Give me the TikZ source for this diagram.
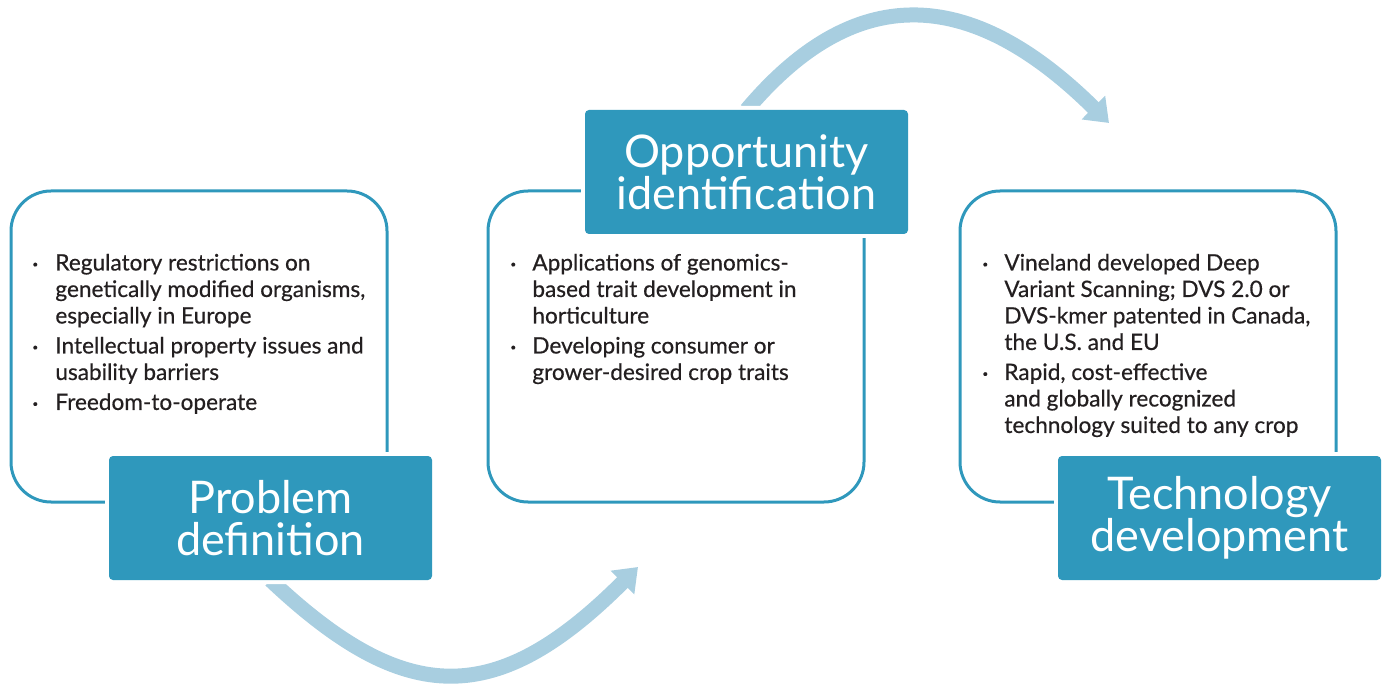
\documentclass[tikz,border=0pt]{standalone}
\usepackage{fontspec}
\setmainfont{Lato}
\usetikzlibrary{arrows.meta}
\definecolor{boxblue}{RGB}{47,152,188}
\definecolor{arrowblue}{RGB}{168,206,224}
\definecolor{textdark}{RGB}{35,31,32}
\newcommand{\blt}{\raisebox{0.25ex}{\tiny\textbullet}}
\begin{document}
\begin{tikzpicture}[x=0.5pt,y=0.5pt,
  outerbox/.style={draw=boxblue, line width=1.5pt, rounded corners=20pt,
    minimum width=188pt, minimum height=155.5pt, anchor=north west, inner sep=0pt},
  titlebox/.style={fill=boxblue, text=white, rounded corners=2pt,
    minimum width=161.5pt, minimum height=62pt, align=center, inner sep=0pt,
    font=\fontsize{22.5}{21}\selectfont, preaction={draw=white, line width=4pt}},
  bullets/.style={anchor=north west, inner sep=0pt, text=textdark,
    font=\fontsize{11.3}{13.25}\selectfont\addfontfeatures{FakeBold=0.5}},
  cyclearrow/.style={draw=arrowblue, line width=7.5pt,
    -{Triangle[length=11pt,width=16pt]}}]
  \useasboundingbox (0,0) rectangle (1382,-684);
  % Frames
  \node[outerbox] (probframe) at (9.5,-189.5) {};
  \node[outerbox] (oppframe) at (486.5,-189.5) {};
  \node[outerbox] (techframe) at (958.5,-189.5) {};
  % Bullet texts
  \node[bullets] (probtext) at (32,-251.5) {\begin{tabular}{@{}p{11.5pt}@{}l@{}}
    \blt & Regulatory restrictions on\\
         & genetically modified organisms,\\
         & especially in Europe\\[1.75pt]
    \blt & Intellectual property issues and\\
         & usability barriers\\[1.75pt]
    \blt & Freedom-to-operate
  \end{tabular}};
  \node[bullets] (opptext) at (510,-251.5) {\begin{tabular}{@{}p{11pt}@{}l@{}}
    \blt & Applications of genomics-\\
         & based trait development in\\
         & horticulture\\[1.75pt]
    \blt & Developing consumer or\\
         & grower-desired crop traits
  \end{tabular}};
  \node[bullets] (techtext) at (982,-251.5) {\begin{tabular}{@{}p{11pt}@{}l@{}}
    \blt & Vineland developed Deep\\
         & Variant Scanning; DVS 2.0 or\\
         & DVS-kmer patented in Canada,\\
         & the U.S. and EU\\[1.75pt]
    \blt & Rapid, cost-effective\\
         & and globally recognized\\
         & technology suited to any crop
  \end{tabular}};
  % Cycle arrows
  \coordinate (oppin) at (638,-567);
  \coordinate (techin) at (1109,-123);
  \draw[cyclearrow] (270.5,-580) .. controls (406,-708) and (497,-708) .. (oppin);
  \draw[cyclearrow] (746.5,-110) .. controls (853,16.5) and (968,16.5) .. (techin);
  % Titles
  \node[titlebox] (probtitle) at (270.5,-518) {Problem\\definition};
  \node[titlebox] (opptitle) at (746.5,-172) {Opportunity\\identification};
  \node[titlebox] (techtitle) at (1219.5,-518) {Technology\\development};
\end{tikzpicture}
\end{document}
